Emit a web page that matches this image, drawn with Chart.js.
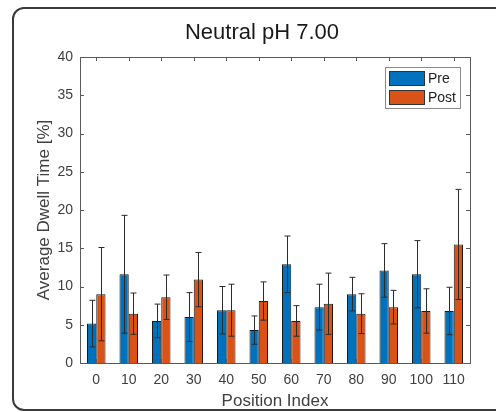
<!DOCTYPE html>
<html>
<head>
<meta charset="utf-8">
<script src="https://cdn.jsdelivr.net/npm/chart.js@4"></script>
<style>
  html, body { margin: 0; padding: 0; background: #fff; overflow: hidden; }
  #wrap { position: relative; width: 496px; height: 412px; }
  #frame { position: absolute; left: 12px; top: 7px; width: 520px; height: 404px;
           border: 2px solid #3a3a3a; border-radius: 12px; box-sizing: border-box; }
  canvas { position: absolute; left: 0; top: 0; }
</style>
</head>
<body>
<div id="wrap">
  <div id="frame"></div>
  <canvas id="chart" width="496" height="412"></canvas>
</div>
<script>
// position index categories
var positions = ['0', '10', '20', '30', '40', '50', '60', '70', '80', '90', '100', '110'];
// mean dwell time [%]
var preMean  = [5.15, 11.6, 5.5, 6.0, 6.9, 4.3, 12.9, 7.3, 9.0, 12.1, 11.6, 6.8];
var postMean = [9.0, 6.45, 8.6, 10.9, 6.9, 8.1, 5.5, 7.75, 6.45, 7.3, 6.8, 15.5];
// standard deviation (error bars)
var preErr  = [3.05, 7.7, 2.2, 3.2, 3.1, 1.85, 3.7, 3.0, 2.2, 3.5, 4.4, 3.1];
var postErr = [6.1, 2.7, 2.9, 3.55, 3.4, 2.5, 2.0, 4.0, 2.6, 2.2, 2.9, 7.2];
var yTicks = [0, 5, 10, 15, 20, 25, 30, 35, 40];
var titleText = 'Neutral pH 7.00';

var blue = '#0072BD';
var orange = '#D95319';
var axisColor = '#5a5a5a';
var textColor = '#404040';
var fontFam = '"Liberation Sans", Arial, sans-serif';

// draws the whiskers on top of each bar
var errorBars = {
    id: 'errorBars',
    afterDatasetsDraw: function (chart) {
        var ctx = chart.ctx;
        var yScale = chart.scales.y;
        var errs = [preErr, postErr];
        ctx.save();
        ctx.strokeStyle = '#2b2b2b';
        ctx.lineWidth = 1;
        chart.data.datasets.forEach(function (ds, i) {
            var meta = chart.getDatasetMeta(i);
            meta.data.forEach(function (bar, j) {
                var v = ds.data[j], e = errs[i][j];
                var x = Math.round(bar.x) + 0.5;
                var yHi = yScale.getPixelForValue(v + e);
                var yLo = yScale.getPixelForValue(v - e);
                ctx.beginPath();
                ctx.moveTo(x, yLo); ctx.lineTo(x, yHi);
                ctx.moveTo(x - 3, yHi); ctx.lineTo(x + 3, yHi);
                ctx.moveTo(x - 3, yLo); ctx.lineTo(x + 3, yLo);
                ctx.stroke();
            });
        });
        ctx.restore();
    }
};

// box around the axes with inward ticks, the title and the legend inside
var axesBox = {
    id: 'axesBox',
    afterDraw: function (chart) {
        var ctx = chart.ctx;
        var a = chart.chartArea;
        var xs = chart.scales.x, ys = chart.scales.y;
        ctx.save();
        ctx.strokeStyle = axisColor;
        ctx.lineWidth = 1;
        ctx.strokeRect(a.left + 0.5, a.top + 0.5, a.right - a.left, a.bottom - a.top);
        ctx.beginPath();
        positions.forEach(function (p, i) {
            var x = Math.round(xs.getPixelForValue(i)) + 0.5;
            ctx.moveTo(x, a.bottom); ctx.lineTo(x, a.bottom - 4);
            ctx.moveTo(x, a.top); ctx.lineTo(x, a.top + 4);
        });
        yTicks.forEach(function (t) {
            var y = Math.round(ys.getPixelForValue(t)) + 0.5;
            ctx.moveTo(a.left, y); ctx.lineTo(a.left + 4, y);
            ctx.moveTo(a.right, y); ctx.lineTo(a.right - 4, y);
        });
        ctx.stroke();

        // title
        ctx.fillStyle = '#1a1a1a';
        ctx.font = '22px ' + fontFam;
        ctx.textAlign = 'center';
        ctx.textBaseline = 'middle';
        ctx.fillText(titleText, 262, 33);

        // legend
        var lx = 385, ly = 67, lw = 75, lh = 41;
        ctx.fillStyle = '#fff';
        ctx.fillRect(lx, ly, lw, lh);
        ctx.strokeStyle = '#8a8a8a';
        ctx.strokeRect(lx + 0.5, ly + 0.5, lw, lh);
        var items = [['Pre', blue], ['Post', orange]];
        ctx.textAlign = 'left';
        items.forEach(function (it, k) {
            var sy = ly + 4 + k * 19;
            ctx.fillStyle = it[1];
            ctx.fillRect(lx + 4, sy, 36, 15);
            ctx.strokeStyle = '#333';
            ctx.strokeRect(lx + 4.5, sy + 0.5, 35, 14);
            ctx.fillStyle = '#222';
            ctx.font = '14px ' + fontFam;
            ctx.fillText(it[0], lx + 43, sy + 8);
        });
        ctx.restore();
    }
};

var ctx = document.getElementById('chart').getContext('2d');
var chart = new Chart(ctx, {
    type: 'bar',
    data: {
        labels: positions,
        datasets: [{
            label: 'Pre',
            data: preMean,
            backgroundColor: blue,
            borderColor: '#1a1a1a',
            borderWidth: 1
        }, {
            label: 'Post',
            data: postMean,
            backgroundColor: orange,
            borderColor: '#1a1a1a',
            borderWidth: 1
        }]
    },
    options: {
        responsive: false,
        animation: false,
        layout: { padding: { left: 34, right: 26, top: 57, bottom: 0 } },
        datasets: { bar: { categoryPercentage: 0.57, barPercentage: 1.0 } },
        plugins: {
            legend: { display: false },
            tooltip: { enabled: false },
            title: { display: false }
        },
        scales: {
            x: {
                grid: { display: false, drawTicks: false },
                border: { display: false },
                ticks: { color: textColor, font: { family: fontFam, size: 14 }, padding: 9 },
                title: {
                    display: true, text: 'Position Index', color: textColor,
                    font: { family: fontFam, size: 17 }, padding: { top: 0, bottom: 0 }
                },
                afterFit: function (s) { s.height = 49; }
            },
            y: {
                min: 0, max: 40,
                grid: { display: false, drawTicks: false },
                border: { display: false },
                ticks: { stepSize: 5, color: textColor, font: { family: fontFam, size: 14 }, padding: 7 },
                title: {
                    display: true, text: 'Average Dwell Time [%]', color: textColor,
                    font: { family: fontFam, size: 17 }, padding: { top: 0, bottom: 0 }
                },
                afterFit: function (s) { s.width = 46; }
            }
        }
    },
    plugins: [errorBars, axesBox]
});
</script>
</body>
</html>
